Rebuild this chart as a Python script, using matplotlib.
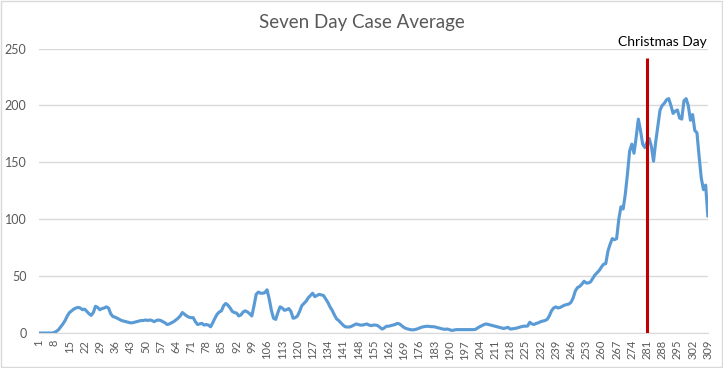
# Seven day case average line chart with a Christmas Day marker
import numpy as np
import matplotlib
matplotlib.use('Agg')
import matplotlib.pyplot as plt
from matplotlib.patches import Rectangle

plt.rcParams['font.family'] = ['Lato', 'DejaVu Sans']

# daily values, ten days per row
cases = [
    0, 0, 0, 0, 0, 0, 0, 0.5, 1.5, 3,
    5.5, 8, 11, 15, 18, 19.5, 21, 22, 22.5, 22,
    20.5, 21, 19, 17, 15.5, 18, 23.5, 22.5, 20.5, 21.5,
    22, 23, 22, 17, 14.5, 14, 13, 12, 11, 10.5,
    10, 9.5, 9, 9, 9.5, 10, 10.5, 11, 11, 11.5,
    11, 11.5, 11, 10, 11, 11.5, 11, 10, 9, 7.5,
    8, 9, 10, 11.5, 13, 15, 18, 16.5, 15, 14,
    13.5, 13.5, 10, 7.5, 8, 8.5, 7, 7.5, 7, 5.5,
    9, 13, 16.5, 18.5, 19.5, 24, 26, 24.5, 22, 19,
    18, 17.5, 15, 16, 18.5, 19.5, 18.5, 17, 15, 24,
    34, 36, 35, 35, 35.5, 38, 30, 20, 13, 12,
    18, 23, 22, 20, 20.5, 21.5, 19, 13, 13.5, 15,
    19, 24, 26, 28, 31, 33, 35, 32, 33, 34,
    33.5, 33, 30, 27, 23, 20, 16, 12.5, 11, 9,
    7, 5.5, 5.3, 5.3, 6, 7, 8, 7.5, 7, 7,
    7.5, 8, 7, 6.5, 7, 7, 6.5, 5, 3.5, 4.5,
    6, 6, 6.5, 7, 7.5, 8.5, 8, 6.5, 5, 4,
    3.5, 3, 2.8, 3, 3.5, 4.3, 5, 5.5, 5.8, 6,
    5.7, 5.6, 5.5, 5, 4.6, 4, 3.5, 3.3, 3.5, 3,
    2.3, 2.5, 3, 3, 3, 3, 3, 3, 3, 3,
    3, 3.2, 4.5, 5.6, 6.5, 7.5, 8, 7.5, 7, 6.5,
    6, 5.5, 5, 4.5, 4, 4.5, 5, 3.5, 3.7, 4,
    4.4, 5, 5.5, 6, 6, 6.2, 9.5, 8, 7.5, 8.5,
    9, 10, 10.5, 11, 12, 15, 19.5, 22, 23, 22,
    22.5, 23.5, 24.5, 25, 25.5, 27, 31, 37, 40, 41,
    43, 45.5, 44, 44, 45, 48, 51, 53, 55, 58,
    60.5, 61, 72, 78, 83, 82, 83, 100, 111, 109,
    122, 140, 160, 166, 158, 172, 188, 178, 166, 163,
    168, 171, 164, 151, 168, 182, 196, 200, 202, 205,
    206, 200, 193, 195, 196, 189, 188, 204, 206, 200,
    187, 192, 178, 176, 155, 136, 126, 130, 103,
]
days = np.arange(1, len(cases) + 1)
tick_days = list(range(1, len(cases) + 1, 7))
christmas_day = 281
y_ticks = [0, 50, 100, 150, 200, 250]

fig = plt.figure(figsize=(7.23, 3.68), dpi=100)
fig.patches.append(Rectangle((0.001, 0.002), 0.997, 0.995, transform=fig.transFigure,
                             fill=False, edgecolor='#d9d9d9', linewidth=1))
ax = fig.add_axes([0.054, 0.095, 0.925, 0.773])

ax.plot(days, cases, color='#5b9bd5', linewidth=2.25, solid_joinstyle='round', zorder=3)
ax.vlines(christmas_day, 0, 242, color='#c00000', linewidth=2.2, zorder=4)
ax.text(288, 256, 'Christmas Day', ha='center', va='center', fontsize=10,
        color='black', clip_on=False)

ax.set_xlim(1, len(cases))
ax.set_ylim(0, 250)
ax.set_xticks(tick_days)
ax.set_xticklabels([str(d) for d in tick_days], rotation=90, fontsize=8, color='#595959')
ax.set_yticks(y_ticks)
ax.set_yticklabels([str(v) for v in y_ticks], fontsize=9, color='#595959')
ax.tick_params(axis='both', length=0)
ax.tick_params(axis='x', pad=5)
ax.tick_params(axis='y', pad=9)
ax.grid(axis='y', color='#d9d9d9', linewidth=1)
ax.set_axisbelow(True)
for side in ['top', 'right', 'left']:
    ax.spines[side].set_visible(False)
ax.spines['bottom'].set_color('#d9d9d9')

fig.text(0.5, 0.94, 'Seven Day Case Average', ha='center', va='center',
         fontsize=13.5, color='#595959')

plt.savefig('out.png', dpi=100)
